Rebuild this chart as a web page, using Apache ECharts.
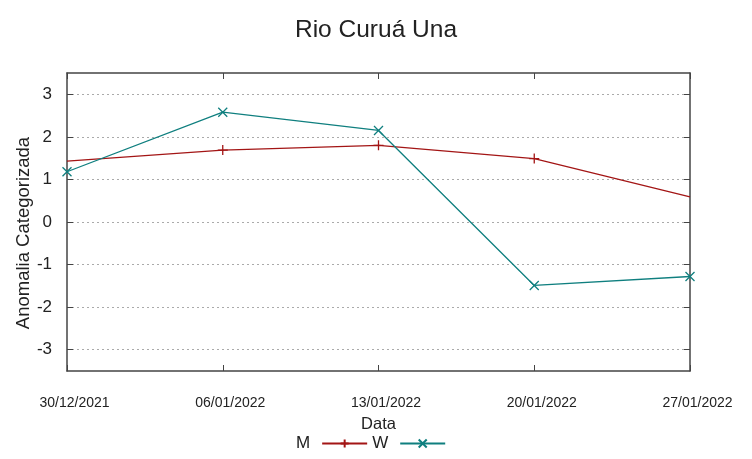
<!DOCTYPE html>
<html><head><meta charset="utf-8">
<script src="https://cdn.jsdelivr.net/npm/echarts@6/dist/echarts.min.js"></script>
<style>html,body{margin:0;padding:0;background:#fff}#c{width:752px;height:459px}</style>
</head><body><div id="c"></div>
<script>
const categories = ['30/12/2021','06/01/2022','13/01/2022','20/01/2022','27/01/2022'];
const valuesM = [1.43, 1.69, 1.80, 1.49, 0.59];
const valuesW = [1.18, 2.58, 2.15, -1.49, -1.28];
const yTicks = [-3,-2,-1,0,1,2,3];

const plus = 'path://M0,5L10,5M5,0L5,10';
const cross = 'path://M0,0L10,10M10,0L0,10';
const colM = '#a31515';
const colW = '#0f7f7f';
const font = 'Liberation Sans, Arial, sans-serif';
const frame = '#444';

const chart = echarts.init(document.getElementById('c'), null, {renderer:'canvas'});
chart.setOption({
  animation:false,
  backgroundColor:'#fff',
  title:{text:'Rio Curuá Una', left:'center', top:13,
    textStyle:{fontFamily:font, fontSize:24.5, fontWeight:'normal', color:'#222'}},
  legend:{left:291, top:430, align:'right', itemWidth:45, itemHeight:10, itemGap:4,
    textStyle:{fontFamily:font, fontSize:17, color:'#222', padding:[0,7,0,0]},
    data:['M','W']},
  grid:{left:67, right:62, top:73, bottom:88},
  xAxis:[{type:'category', data:categories, boundaryGap:false,
    name:'Data', nameLocation:'middle', nameGap:45,
    nameTextStyle:{fontFamily:font, fontSize:16.5, color:'#222'},
    axisLine:{onZero:false, lineStyle:{color:frame, width:1.5}},
    axisTick:{inside:true, length:6, lineStyle:{color:frame}},
    axisLabel:{margin:25, fontFamily:font, fontSize:14, color:'#222', padding:[0,0,0,15]},
    splitLine:{show:false}},
   {type:'category', data:categories, boundaryGap:false, position:'top',
    axisLine:{onZero:false, lineStyle:{color:frame, width:1.5}},
    axisTick:{inside:true, length:6, lineStyle:{color:frame}},
    axisLabel:{show:false}, splitLine:{show:false}}],
  yAxis:[{type:'value', min:-3.5, max:3.5, interval:0.5,
    name:'Anomalia Categorizada', nameLocation:'middle', nameGap:34, nameMoveOverlap:false,
    nameTextStyle:{fontFamily:font, fontSize:18.5, color:'#222', padding:[0,22,0,0]},
    axisLine:{show:true, onZero:false, lineStyle:{color:frame, width:1.5}},
    axisTick:{show:true, inside:true, length:6, customValues:yTicks, lineStyle:{color:frame}},
    axisLabel:{fontFamily:font, fontSize:17, color:'#222', margin:15, customValues:yTicks},
    splitLine:{show:true, lineStyle:{color:'#aaa', type:[2,3], width:1}}},
   {type:'value', min:-3.5, max:3.5, interval:0.5, position:'right',
    axisLine:{show:true, onZero:false, lineStyle:{color:frame, width:1.5}},
    axisTick:{show:true, inside:true, length:6, customValues:yTicks, lineStyle:{color:frame}},
    axisLabel:{show:false}, splitLine:{show:false}}],
  series:[
    {name:'M', type:'line',
     data: valuesM.map((v,i)=> (i===0||i===valuesM.length-1) ? {value:v, symbol:'none'} : v),
     symbol:plus, symbolSize:10, showAllSymbol:true,
     lineStyle:{color:colM, width:1.3},
     itemStyle:{color:colM, borderColor:colM, borderWidth:1.3}},
    {name:'W', type:'line', data:valuesW,
     symbol:cross, symbolSize:9, showAllSymbol:true,
     lineStyle:{color:colW, width:1.3},
     itemStyle:{color:colW, borderColor:colW, borderWidth:1.3}}
  ]
});
</script></body></html>
